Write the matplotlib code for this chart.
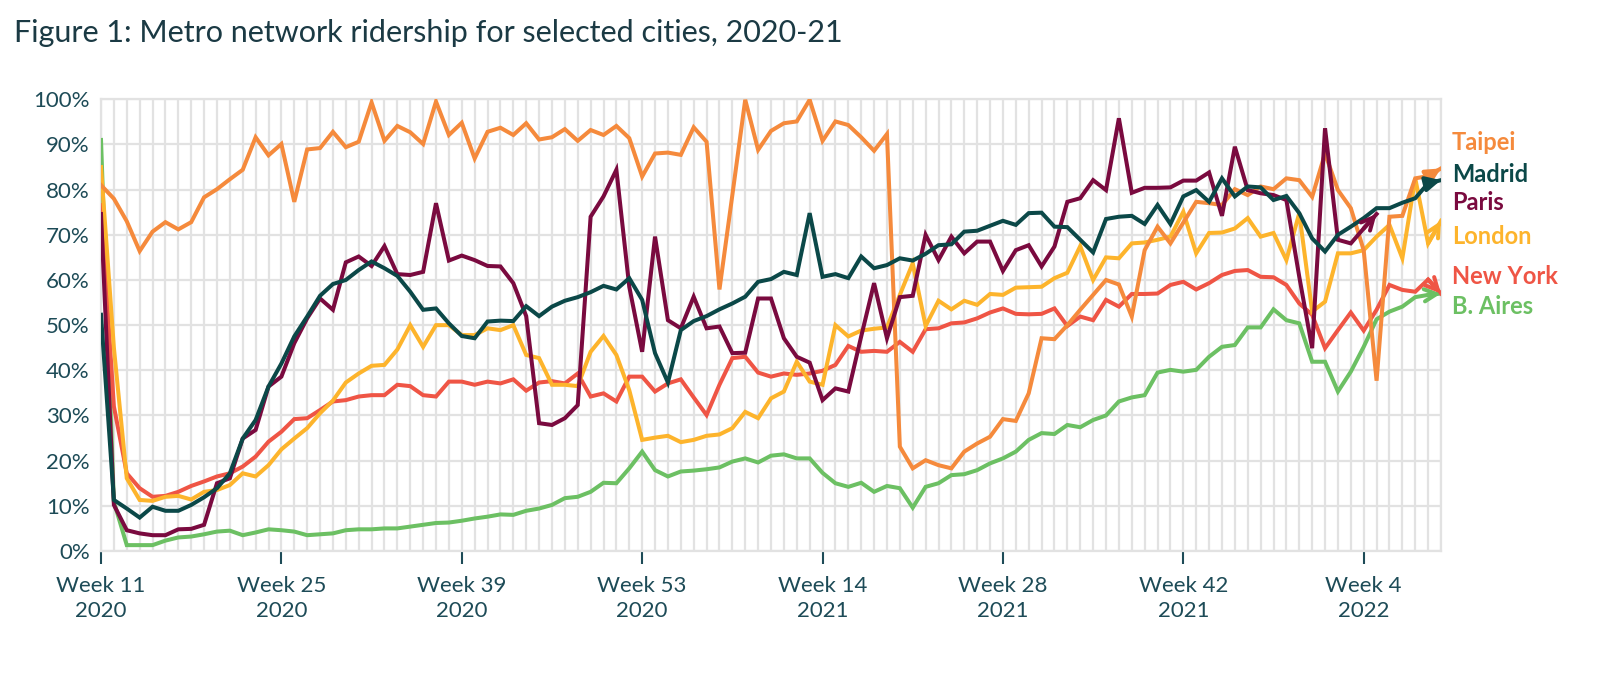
import matplotlib.pyplot as plt

plt.rcParams['font.family'] = ['Lato', 'DejaVu Sans']

# weekly ridership (% of pre-pandemic), starting Week 11 2020
taipei = [81, 78, 73, 66.4, 70.7, 72.8, 71.2, 72.8, 78.3, 80.1, 82.3, 84.4, 91.6, 87.6, 90.1, 77.3, 88.9, 89.2, 92.8, 89.4,
          90.6, 99.3, 90.8, 94.1, 92.7, 90.1,
          99.5, 92.1, 94.8, 86.9, 92.8, 93.7, 92.1, 94.7, 91.1, 91.6, 93.4, 90.8, 93.2, 92.1, 94.1, 91.4, 82.9, 88.0, 88.2, 87.7,
          93.8, 90.6, 57.9, 78.8, 99.9, 88.8,
          93, 94.7, 95.1, 99.9, 90.8, 95.1, 94.3, 91.6, 88.6, 92.3, 23.1, 18.3, 20.1, 19, 18.3, 22, 23.8, 25.3, 29.2, 28.8,
          34.9, 47.1, 46.9, 50, 53.4, 56.7,
          60, 59, 51.9, 66.6, 71.8, 68.1, 72.7, 77.3, 77, 76.6, 80.1, 78.8, 80.7, 80.1, 82.5, 82.1, 78.4, 88, 79.9, 75.9,
          66.6, 37.7, 74, 74.2, 82.5, 83, 84.7]
madrid = [52.3, 11.3, 9.4, 7.4, 9.8, 8.9, 8.9, 10.2, 11.9, 13.9, 17.2, 24.9, 29, 36.4, 41.5, 47.5, 51.9, 56.5, 59.1, 60,
          62.2, 64.1, 62.6, 60.9, 57.4, 53.4,
          53.7, 50.4, 47.6, 47.1, 50.8, 51, 50.9, 54.2, 52, 54.1, 55.4, 56.2, 57.3, 58.7, 57.9, 60.4, 55.6, 43.8, 37.3, 48.9,
          50.9, 52, 53.5, 54.8, 56.3, 59.6,
          60.2, 61.8, 61.1, 74.8, 60.7, 61.3, 60.4, 65.2, 62.6, 63.3, 64.8, 64.3, 65.8, 67.7, 67.9, 70.7, 70.9, 72, 73.1, 72.2,
          74.8, 74.9, 71.8, 71.7, 68.9, 66.1,
          73.5, 74, 74.2, 72.4, 76.6, 72.4, 78.5, 79.9, 77.3, 82.5, 78.5, 80.7, 80.5, 77.7, 78.6, 74.8, 69.2, 66.3, 70, 71.8,
          73.7, 75.9, 75.9, 77.1, 78.1, 81.4, 82.1]
paris = [74.6, 10.2, 4.6, 3.9, 3.5, 3.5, 4.8, 4.9, 5.8, 15, 16.1, 24.9, 26.8, 36.4, 38.6, 46, 51.5, 55.9, 53.4, 63.9,
         65.2, 63.1, 67.5, 61.3, 61.1, 61.8,
         77, 64.3, 65.4, 64.4, 63.1, 63, 59.3, 52, 28.3, 27.9, 29.4, 32.3, 74, 78.5, 84.4, 58.5, 44.1, 69.6, 51.1, 49.3,
         56.3, 49.3, 49.7, 43.8, 43.9, 55.9,
         55.9, 47.1, 43, 41.7, 33.4, 36, 35.3, 47.5, 59.3, 47.1, 56.2, 56.5, 70, 64.4, 69.6, 65.9, 68.5, 68.5, 62, 66.6,
         67.7, 63, 67.4, 77.3, 78.1, 82.1,
         79.9, 95.8, 79.3, 80.4, 80.4, 80.5, 82, 82, 83.8, 74.2, 89.5, 79.9, 79.2, 78.8, 77.7, 60.7, 44.9, 93.6, 68.9, 68.1,
         71.4, 74.6]
london = [85, 45, 16.1, 11.3, 11.1, 12, 12.2, 11.4, 13.1, 13.5, 14.6, 17.2, 16.5, 19, 22.5, 24.9, 27.2, 30.5, 33.3, 37.3,
          39.3, 41, 41.2, 44.6, 50, 45.2,
          50, 50, 47.8, 47.8, 49.3, 48.9, 50, 43.4, 42.7, 36.8, 36.8, 36.5, 44.1, 47.6, 43.4, 35.6, 24.6, 25.1, 25.5, 24.1,
          24.6, 25.5, 25.8, 27.2, 30.8, 29.4,
          33.8, 35.3, 41.9, 37.5, 36.8, 50, 47.5, 48.8, 49.2, 49.5, 56.7, 63.7, 49.8, 55.4, 53.5, 55.4, 54.5, 56.9, 56.7, 58.3,
          58.4, 58.5, 60.4, 61.6, 67.5, 60,
          65, 64.8, 68.1, 68.3, 68.9, 69.6, 75.1, 65.9, 70.4, 70.5, 71.4, 73.7, 69.6, 70.4, 64.4, 74.8, 53, 55.2, 65.9, 65.9,
          66.6, 69.6, 72.2, 64.8, 82.5, 68.1, 73.1]
new_york = [76.6, 32, 17.2, 13.9, 12, 12.2, 13.1, 14.4, 15.4, 16.5, 17.2, 18.7, 20.9, 24.2, 26.4, 29.2, 29.4, 31.2, 33.1, 33.4,
            34.2, 34.5, 34.5, 36.8, 36.5, 34.5,
            34.2, 37.5, 37.5, 36.8, 37.5, 37.1, 38, 35.5, 37.3, 37.6, 37.1, 39.3, 34.2, 34.9, 33.1, 38.6, 38.6, 35.3, 37.1, 38,
            34, 30.1, 36.8, 42.7, 43, 39.5,
            38.6, 39.3, 39, 39.3, 39.9, 41.2, 45.4, 44.1, 44.3, 44.1, 46.3, 44.1, 49.1, 49.3, 50.4, 50.6, 51.5, 52.8, 53.7, 52.5,
            52.4, 52.5, 53.7, 49.8, 51.9, 51.1,
            55.6, 54.1, 56.9, 56.9, 57, 58.9, 59.6, 57.9, 59.3, 61.1, 62, 62.2, 60.7, 60.6, 58.9, 54.8, 52.3, 44.9, 48.9, 52.8,
            48.8, 53.4, 58.9, 57.8, 57.4, 60.1, 57]
b_aires = [91, 10.9, 1.3, 1.3, 1.3, 2.3, 3, 3.2, 3.7, 4.3, 4.5, 3.5, 4.1, 4.8, 4.6, 4.3, 3.5, 3.7, 3.9, 4.6,
           4.8, 4.8, 5, 5, 5.4, 5.8,
           6.2, 6.3, 6.7, 7.2, 7.6, 8.1, 8, 8.9, 9.4, 10.2, 11.7, 12, 13.1, 15.1, 15, 18.3, 22, 17.9, 16.5, 17.6,
           17.8, 18.1, 18.5, 19.8, 20.5, 19.6,
           21.1, 21.4, 20.5, 20.5, 17.3, 15, 14.2, 15.1, 13.1, 14.4, 13.9, 9.6, 14.2, 15, 16.8, 17, 17.9, 19.4, 20.5, 22,
           24.6, 26.1, 25.9, 27.9, 27.4, 29,
           30, 33.1, 34, 34.5, 39.5, 40.1, 39.7, 40.1, 43, 45.2, 45.6, 49.5, 49.5, 53.5, 51.1, 50.4, 41.9, 41.9, 35.3, 39.7,
           45.2, 51.3, 53, 54.1, 56.2, 56.7, 57]

tick_weeks = [0, 14, 28, 42, 56, 70, 84, 98]
tick_labels = ['Week 11\n2020', 'Week 25\n2020', 'Week 39\n2020', 'Week 53\n2020',
               'Week 14\n2021', 'Week 28\n2021', 'Week 42\n2021', 'Week 4\n2022']

text_col = '#1d4b57'
series = [
    ('B. Aires', b_aires, '#6cc063', '->', 307),
    ('New York', new_york, '#ef5545', '->', 277),
    ('London', london, '#fdb42c', '->', 236),
    ('Taipei', taipei, '#f58a3c', '-|>', 143),
    ('Paris', paris, '#7a0a3f', '->', 203),
    ('Madrid', madrid, '#0b4848', '-|>', 175),
]

fig = plt.figure(figsize=(16, 6.84), dpi=100)
ax = fig.add_axes([101 / 1600, 1 - 551 / 684, 1340 / 1600, 451.7 / 684])

for name, vals, col, style, label_y in series:
    x = list(range(len(vals)))
    ax.plot(x, vals, color=col, lw=2.9, solid_joinstyle='miter', zorder=3)
    ax.annotate('', xy=(x[-1], vals[-1]), xytext=(x[-2], vals[-2]),
                arrowprops=dict(arrowstyle=style, color=col, lw=2.9, mutation_scale=22,
                                shrinkA=0, shrinkB=0), zorder=4)
    fig.text(1452 / 1600, 1 - label_y / 684, name, color=col, fontsize=17,
             fontweight='bold', ha='left', va='center')

ax.set_xlim(0, 104)
ax.set_ylim(0, 100)
ax.set_xticks(range(0, 105), minor=True)
ax.set_xticks(tick_weeks)
ax.set_xticklabels(tick_labels, fontsize=16, color=text_col, linespacing=1.3)
ax.set_yticks(range(0, 101, 10))
ax.set_yticklabels([f'{v}%' for v in range(0, 101, 10)], fontsize=16, color=text_col)
ax.grid(True, which='both', axis='x', color='#e2e2e2', lw=1.6, zorder=0)
ax.grid(True, which='major', axis='y', color='#e2e2e2', lw=1.6, zorder=0)
ax.tick_params(axis='x', which='major', length=9, width=1.5, color=text_col, pad=9)
ax.tick_params(axis='x', which='minor', length=0)
ax.tick_params(axis='y', length=0, pad=8)
for s in ax.spines.values():
    s.set_color('#e2e2e2')
    s.set_linewidth(1.6)

fig.text(14 / 1600, 1 - 33 / 684, 'Figure 1: Metro network ridership for selected cities, 2020-21',
         fontsize=22, color='#1b3a44', ha='left', va='center')

fig.savefig('out.png', dpi=100)
